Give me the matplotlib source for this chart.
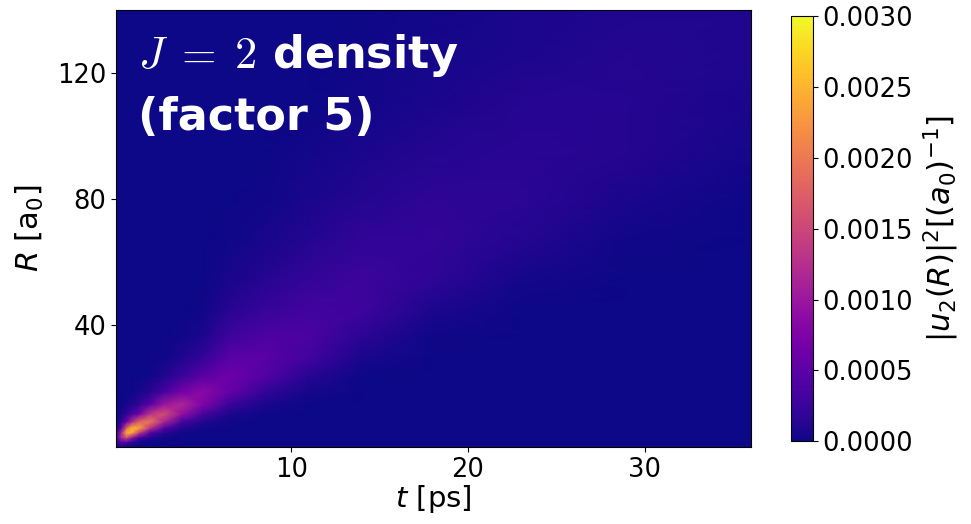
import numpy as np
import matplotlib
matplotlib.use("Agg")
import matplotlib.pyplot as plt

plt.rcParams["mathtext.fontset"] = "dejavusans"

# time nodes [ps] and radial nodes [a0]
t_nodes = [0.1, 0.4, 0.7, 1.0, 1.4, 2.0, 2.8, 3.8, 5.0, 6.5, 8.5, 11, 14, 18, 23, 29, 36]
r_nodes = [1.5, 3, 4.5, 6, 7.5, 9.5, 12, 15, 19, 24, 30, 37, 45, 55, 67, 80, 95, 110, 125, 140]

# |u_2(R)|^2 in units of 1e-4 (a0)^-1, one row per time node
density_e4 = [
    [0.4, 1.4, 2.0, 1.4, 0.6, 0.2, 0, 0, 0, 0, 0, 0, 0, 0, 0, 0, 0, 0, 0, 0],
    [0.7, 4.6, 11.7, 11.6, 5.5, 1.8, 0.5, 0.1, 0, 0, 0, 0, 0, 0, 0, 0, 0, 0, 0, 0],
    [0.3, 3.6, 15.5, 25.0, 18.1, 6.5, 1.8, 0.4, 0.1, 0, 0, 0, 0, 0, 0, 0, 0, 0, 0, 0],
    [0.1, 1.7, 9.7, 23.9, 25.5, 11.7, 3.7, 0.9, 0.1, 0, 0, 0, 0, 0, 0, 0, 0, 0, 0, 0],
    [0, 0.4, 3.6, 13.7, 23.6, 18.2, 6.5, 1.9, 0.4, 0, 0, 0, 0, 0, 0, 0, 0, 0, 0, 0],
    [0, 0.1, 1.1, 5.0, 13.0, 20.0, 13.0, 4.6, 1.2, 0.2, 0, 0, 0, 0, 0, 0, 0, 0, 0, 0],
    [0, 0, 0.3, 1.3, 4.3, 11.5, 15.8, 9.9, 3.3, 0.9, 0.2, 0, 0, 0, 0, 0, 0, 0, 0, 0],
    [0, 0, 0.1, 0.3, 1.0, 3.6, 9.4, 11.7, 6.9, 2.5, 0.8, 0.2, 0, 0, 0, 0, 0, 0, 0, 0],
    [0, 0, 0, 0.1, 0.3, 1.0, 3.4, 7.7, 8.5, 4.7, 1.9, 0.6, 0.2, 0, 0, 0, 0, 0, 0, 0],
    [0, 0, 0, 0, 0.1, 0.2, 0.8, 2.5, 5.8, 6.4, 4.8, 2.6, 1.3, 0.5, 0.2, 0.1, 0, 0, 0, 0],
    [0, 0, 0, 0, 0, 0.1, 0.2, 0.6, 1.9, 4.3, 4.8, 3.8, 2.3, 1.2, 0.5, 0.2, 0.1, 0, 0, 0],
    [0, 0, 0, 0, 0, 0, 0, 0.1, 0.4, 1.3, 3.1, 3.7, 3.1, 2.0, 1.1, 0.6, 0.3, 0.1, 0, 0],
    [0, 0, 0, 0, 0, 0, 0, 0, 0, 0.1, 0.6, 1.6, 2.8, 2.6, 1.9, 1.1, 0.6, 0.3, 0.2, 0.1],
    [0, 0, 0, 0, 0, 0, 0, 0, 0, 0, 0.1, 0.2, 0.8, 1.8, 2.1, 1.7, 1.1, 0.7, 0.4, 0.3],
    [0, 0, 0, 0, 0, 0, 0, 0, 0, 0, 0, 0, 0.1, 0.4, 1.1, 1.6, 1.5, 1.2, 0.8, 0.6],
    [0, 0, 0, 0, 0, 0, 0, 0, 0, 0, 0, 0, 0, 0.1, 0.2, 0.6, 1.2, 1.2, 1.1, 0.9],
    [0, 0, 0, 0, 0, 0, 0, 0, 0, 0, 0, 0, 0, 0, 0, 0.1, 0.4, 0.7, 0.9, 0.9],
]

cbar_ticks = [0.0, 0.0005, 0.0010, 0.0015, 0.0020, 0.0025, 0.0030]

dens = np.array(density_e4).T * 1e-4

fig = plt.figure(figsize=(9.71, 5.24), dpi=100)
ax = fig.add_axes([0.1195, 0.147, 0.654, 0.834])
cax = fig.add_axes([0.8145, 0.158, 0.0227, 0.811])

mesh = ax.pcolormesh(t_nodes, r_nodes, dens, shading="gouraud",
                     cmap="plasma", vmin=0, vmax=0.003)
ax.set_xlim(t_nodes[0], t_nodes[-1])
ax.set_ylim(r_nodes[0], r_nodes[-1])
ax.set_xticks([10, 20, 30])
ax.set_yticks([40, 80, 120])
ax.tick_params(labelsize=18.5)
ax.set_xlabel(r"$t$ [ps]", fontsize=21, labelpad=0)
ax.set_ylabel(r"$R$ [a$_0$]", fontsize=22, labelpad=8)

ax.text(0.035, 0.95, r"$J\;=\;2$ density" + "\n(factor 5)",
        transform=ax.transAxes, ha="left", va="top",
        color="white", fontsize=32, fontweight="bold",
        math_fontfamily="cm", linespacing=1.5)

cb = fig.colorbar(mesh, cax=cax, ticks=cbar_ticks, format="%.4f")
cb.ax.tick_params(labelsize=18.5)
cb.set_label(r"$|u_2(R)|^2[(a_0)^{-1}]$", fontsize=22, labelpad=6)

fig.savefig("out.png", dpi=100)
